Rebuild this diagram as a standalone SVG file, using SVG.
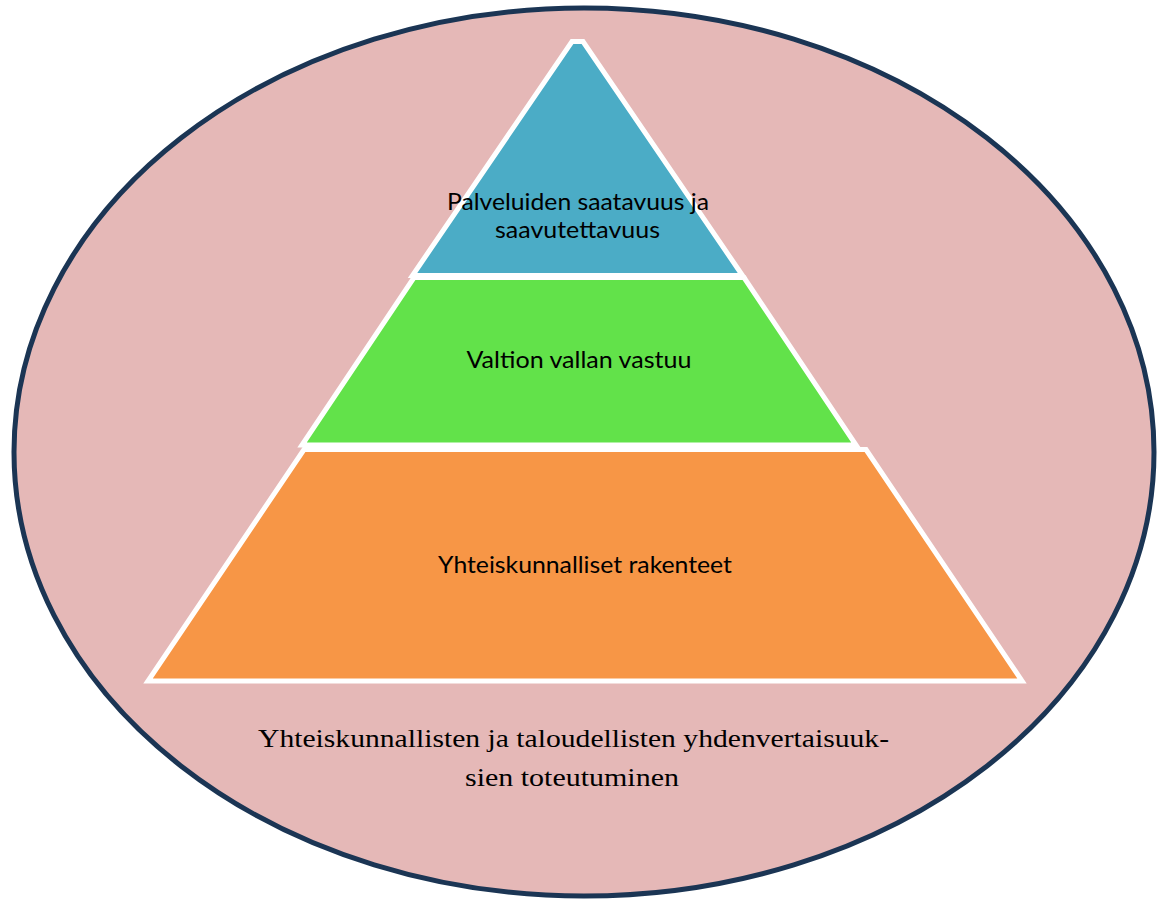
<svg xmlns="http://www.w3.org/2000/svg" width="1164" height="899" viewBox="0 0 1164 899">
  <style>
    .layer { stroke: #ffffff; stroke-width: 5; stroke-linejoin: miter; }
    .lbl { font-family: Lato, "Open Sans", "Noto Sans", sans-serif; font-size: 23px; fill: #000000; text-anchor: middle; }
    .cap { font-family: "Liberation Serif", "DejaVu Serif", serif; font-size: 26px; fill: #000000; text-anchor: middle; }
  </style>
  <rect x="0" y="0" width="1164" height="899" fill="#ffffff"/>
  <g id="circle">
    <ellipse cx="584" cy="452" rx="570" ry="444" fill="#e5b8b7" stroke="#1b3554" stroke-width="5"/>
    <text class="cap" x="573.5" y="747" textLength="631" lengthAdjust="spacingAndGlyphs">Yhteiskunnallisten ja taloudellisten yhdenvertaisuuk-</text>
    <text class="cap" x="572" y="786" textLength="214" lengthAdjust="spacingAndGlyphs">sien toteutuminen</text>
  </g>
  <g id="base-layer">
    <polygon class="layer" fill="#f79646" points="304,449.5 866,449.5 1022,681 148,681"/>
    <text class="lbl" x="585" y="573" textLength="294" lengthAdjust="spacingAndGlyphs">Yhteiskunnalliset rakenteet</text>
  </g>
  <g id="middle-layer">
    <polygon class="layer" fill="#62e24a" points="414,277.5 744,277.5 856,445 302,445"/>
    <text class="lbl" x="579" y="368" textLength="225" lengthAdjust="spacingAndGlyphs">Valtion vallan vastuu</text>
  </g>
  <g id="top-layer">
    <polygon class="layer" fill="#4bacc6" points="572,41.5 583,41.5 742.5,275.5 412.5,275.5"/>
    <text class="lbl" x="578" y="210" textLength="262" lengthAdjust="spacingAndGlyphs">Palveluiden saatavuus ja</text>
    <text class="lbl" x="577.5" y="238" textLength="165" lengthAdjust="spacingAndGlyphs">saavutettavuus</text>
  </g>
  <g id="connectors"/>
</svg>
